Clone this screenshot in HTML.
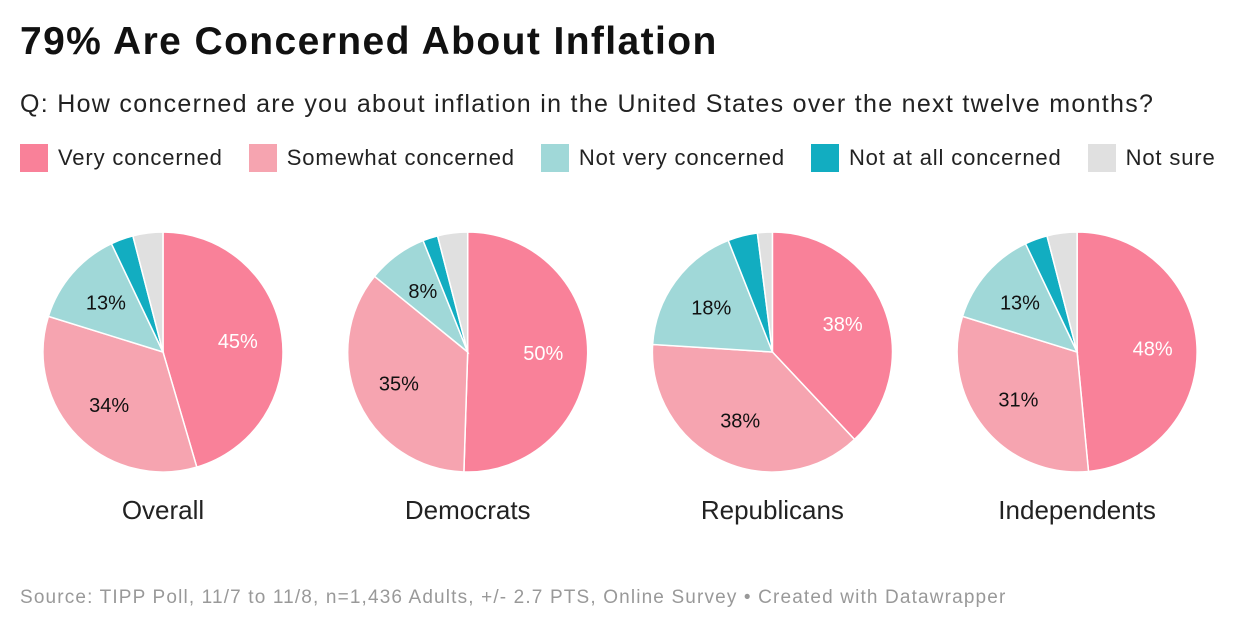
<!DOCTYPE html>
<html><head><meta charset="utf-8"><style>
body{margin:0;width:1240px;height:632px;background:#fff;font-family:"Liberation Sans",sans-serif;overflow:hidden;position:relative}
h1{position:absolute;left:20px;top:20px;margin:0;font-size:39px;font-weight:bold;color:#111;letter-spacing:1.4px;white-space:nowrap}
.sub{position:absolute;left:20px;top:90px;font-size:25px;color:#222;letter-spacing:1.3px;white-space:nowrap}
.legend{position:absolute;left:20px;top:144px;display:flex;font-size:22px;color:#222;letter-spacing:0.85px;white-space:nowrap}
.li{display:flex;align-items:center;margin-right:26px;flex-shrink:0}
.sw{width:28px;height:28px;margin-right:10px;flex-shrink:0}
.src{position:absolute;left:20px;top:587px;font-size:19px;color:#999;letter-spacing:1.15px;white-space:nowrap}
</style></head><body>
<h1>79% Are Concerned About Inflation</h1>
<div class="sub">Q: How concerned are you about inflation in the United States over the next twelve months?</div>
<div class="legend">
<div class="li"><div class="sw" style="background:#f98199"></div>Very concerned</div>
<div class="li"><div class="sw" style="background:#f6a4b0"></div>Somewhat concerned</div>
<div class="li"><div class="sw" style="background:#a0d8d8"></div>Not very concerned</div>
<div class="li"><div class="sw" style="background:#12adc1"></div>Not at all concerned</div>
<div class="li"><div class="sw" style="background:#e0e0e0"></div>Not sure</div>
</div>
<svg id="chart" width="1240" height="632" style="position:absolute;left:0;top:0"></svg>
<div class="src">Source: TIPP Poll, 11/7 to 11/8, n=1,436 Adults, +/- 2.7 PTS, Online Survey • Created with Datawrapper</div>
<script>
const groups=["Overall","Democrats","Republicans","Independents"];
const veryConcerned=[45,50,38,48];
const somewhatConcerned=[34,35,38,31];
const notVeryConcerned=[13,8,18,13];
const notAtAllConcerned=[3,2,4,3];
const notSure=[4,4,2,4];
const colors=["#f98199","#f6a4b0","#a0d8d8","#12adc1","#e0e0e0"];
const labelCol=["#fff","#111","#111","#111","#111"];
const svg=document.getElementById('chart');const NS="http://www.w3.org/2000/svg";
const cx0=163,dx=304.7,cy=352,R=120;
groups.forEach((g,i)=>{
  const vals=[veryConcerned[i],somewhatConcerned[i],notVeryConcerned[i],notAtAllConcerned[i],notSure[i]];
  const tot=vals.reduce((a,b)=>a+b,0);
  const cx=cx0+dx*i;let a=0;
  vals.forEach((v,k)=>{
    const a0=a/tot*2*Math.PI,a1=(a+v)/tot*2*Math.PI;a+=v;
    const p=document.createElementNS(NS,'path');
    const x0=cx+R*Math.sin(a0),y0=cy-R*Math.cos(a0),x1=cx+R*Math.sin(a1),y1=cy-R*Math.cos(a1);
    p.setAttribute('d',`M${cx},${cy}L${x0},${y0}A${R},${R} 0 ${a1-a0>Math.PI?1:0} 1 ${x1},${y1}Z`);
    p.setAttribute('fill',colors[k]);p.setAttribute('stroke','#fff');p.setAttribute('stroke-width','1.5');
    
    
    svg.appendChild(p);
    if(v>=6){
      const m=(a0+a1)/2,r=R*0.63;
      const t=document.createElementNS(NS,'text');
      t.setAttribute('x',cx+r*Math.sin(m));t.setAttribute('y',cy-r*Math.cos(m)+7);
      t.setAttribute('text-anchor','middle');t.setAttribute('font-size','20');t.setAttribute('fill',labelCol[k]);
      t.setAttribute('font-family','Liberation Sans, sans-serif');
      t.textContent=v+'%';
      
      
      svg.appendChild(t);
    }
  });
  const t=document.createElementNS(NS,'text');
  t.setAttribute('x',cx);t.setAttribute('y',519);t.setAttribute('text-anchor','middle');
  t.setAttribute('font-size','26');t.setAttribute('fill','#222');t.setAttribute('font-family','Liberation Sans, sans-serif');
  t.textContent=g;
  
  
  svg.appendChild(t);
});
</script>
</body></html>
